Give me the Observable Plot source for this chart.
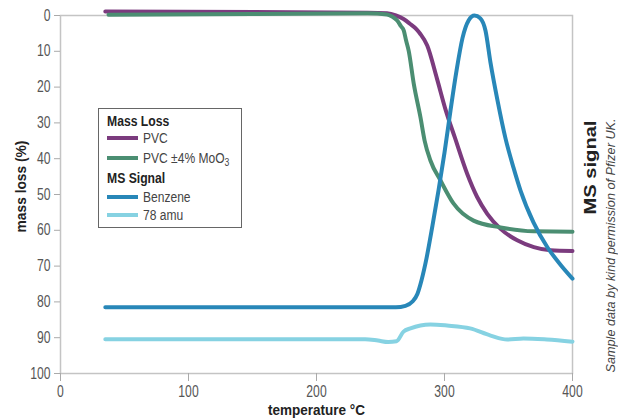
<!DOCTYPE html>
<html>
<head>
<meta charset="utf-8">
<script src="https://cdn.jsdelivr.net/npm/d3@7"></script>
<script src="https://cdn.jsdelivr.net/npm/@observablehq/plot@0.6"></script>
<style>
  html, body { margin: 0; padding: 0; background: #fff; }
  #wrap { position: relative; width: 618px; height: 419px; }
  #legend { position: absolute; left: 98px; top: 108px; width: 144px; height: 120px;
    border: 1.5px solid #666; box-sizing: border-box; background: #fff;
    font-family: "Liberation Sans", Arial, sans-serif; font-size: 14px; color: #444; }
  #legend .hdr { position: absolute; left: 8px; font-weight: bold; color: #222; line-height: 18px;
    transform: scaleX(0.87); transform-origin: left center; white-space: nowrap; }
  #legend .item { position: absolute; left: 8px; height: 18px; line-height: 18px; width: 130px; }
  #legend .sw { position: absolute; left: 0; top: 7px; width: 31px; height: 4px; }
  #legend .lab { position: absolute; left: 36px; white-space: nowrap;
    transform: scaleX(0.86); transform-origin: left center; }
</style>
</head>
<body>
<div id="wrap"></div>
<script>
// ---- data ----
const seriesNames = ["PVC", "PVC ±4% MoO3", "Benzene", "78 amu"];
const seriesColors = ["#7b3b7e", "#4b8e72", "#2887b8", "#86d2e2"];
const groupTitles = ["Mass Loss", "MS Signal"];

const pvcT = [35, 240, 255, 262, 268, 273, 278, 281, 286.5, 294, 301, 308, 317.7, 325.5, 333.4, 343.8, 356.8, 369.8, 382.8, 400];
const pvcY = [-1.1, -0.8, -0.6, 0, 1, 2.3, 3.8, 5.1, 8.4, 17.5, 26.5, 34, 44.2, 50.7, 55.4, 59.6, 62.8, 64.7, 65.6, 65.8];

const moT = [37.5, 150, 240, 255, 259, 263, 266, 268.2, 270, 272, 276, 281.2, 284.5, 289, 296.9, 307, 322.7, 343.8, 369.5, 400];
const moY = [-0.2, -0.4, -0.6, -0.3, 0.3, 1.4, 3, 4.2, 7, 9.8, 19.1, 28.4, 35, 40.5, 46.1, 52.5, 57.3, 59.2, 60.3, 60.4];

const benT = [35, 262, 269.5, 275, 278.9, 282, 285.9, 290.6, 295.3, 300, 304.7, 309.4, 314, 318.8, 323.4, 328, 332, 335.9, 341.4, 347.7, 353.9, 359.4, 369.5, 380.5, 390.6, 400];
const benY = [81.5, 81.5, 81.1, 79.9, 77.7, 74.0, 67.9, 58.7, 48.9, 38.3, 26.5, 15.4, 6.4, 1.4, 0, 0.8, 4.2, 13.1, 23.7, 34.4, 42.5, 48.9, 57.8, 64.8, 69.6, 73.5];

const amuT = [35, 150, 238, 248, 256, 262.5, 268, 273.4, 289, 302, 320, 336, 349, 361.7, 380, 400];
const amuY = [90.4, 90.4, 90.4, 90.8, 91.2, 91.0, 88.3, 87.4, 86.3, 86.6, 87.4, 89.4, 90.5, 90.2, 90.5, 91.1];

const xTicks = [0, 100, 200, 300, 400];
const yTicks = [0, 10, 20, 30, 40, 50, 60, 70, 80, 90, 100];

const xLabel = "temperature °C";
const yLabel = "mass loss (%)";
const rightLabel = "MS signal";
const caption = "Sample data by kind permission of Pfizer UK.";

// ---- build table ----
const rows = [];
[[pvcT, pvcY], [moT, moY], [benT, benY], [amuT, amuY]].forEach(([ts, ys], i) => {
  ts.forEach((t, j) => rows.push({series: seriesNames[i], t, y: ys[j]}));
});

const font = '"Liberation Sans", Arial, sans-serif';

const chart = Plot.plot({
  width: 618,
  height: 419,
  marginLeft: 60,
  marginRight: 46,
  marginTop: 15,
  marginBottom: 46,
  style: {fontFamily: font, fontSize: "16px", color: "#555", background: "#fff"},
  x: {domain: [0, 400]},
  y: {domain: [0, 100], reverse: true},
  color: {domain: seriesNames, range: seriesColors},
  marks: [
    Plot.frame({stroke: "#c4c4c4", strokeWidth: 1.5}),
    Plot.axisX({ticks: xTicks, tickSize: 8, tickPadding: 4, label: null, stroke: "#aaa", fill: "#555", fontSize: 16}),
    Plot.axisY({ticks: yTicks, tickSize: 6, tickPadding: 4, label: null, stroke: "#aaa", fill: "#555", fontSize: 16}),
    Plot.line(rows, {x: "t", y: "y", z: "series", stroke: "series", strokeWidth: 4, curve: "monotone-x"}),
    Plot.text([xLabel], {frameAnchor: "bottom", dy: 37, textAnchor: "middle", lineAnchor: "middle", fontWeight: "bold", fontSize: 15, fill: "#222", className: "lbl-x"}),
    Plot.text([yLabel], {frameAnchor: "left", dx: -39, dy: -8, textAnchor: "middle", lineAnchor: "middle", rotate: -90, fontWeight: "bold", fontSize: 15, fill: "#222", className: "lbl-y"}),
    Plot.text([rightLabel], {frameAnchor: "right", dx: 18, dy: -27, textAnchor: "middle", lineAnchor: "middle", rotate: -90, fontWeight: "bold", fontSize: 16, fill: "#222", className: "lbl-r"}),
    Plot.text([caption], {frameAnchor: "right", dx: 38, dy: 51, textAnchor: "middle", lineAnchor: "middle", rotate: -90, fontStyle: "italic", fontSize: 13, fill: "#444", className: "lbl-c"})
  ]
});
const wrap = document.getElementById("wrap");
wrap.appendChild(chart);

// emulate a condensed typeface
const rotatedTargets = {"lbl-y": 92, "lbl-r": 94, "lbl-c": 254};
chart.querySelectorAll("text").forEach(t => {
  const len = t.getComputedTextLength();
  if (!len) return;
  let handled = false;
  for (const cls in rotatedTargets) {
    if (t.closest("g." + cls)) {
      const k = rotatedTargets[cls] / len;
      const tr = t.getAttribute("transform") || "";
      t.setAttribute("transform", tr + ` scale(${k},1)`);
      handled = true;
    }
  }
  if (handled) return;
  const target = t.closest("g.lbl-x") ? 97 : len * 0.76;
  t.setAttribute("textLength", target);
  t.setAttribute("lengthAdjust", "spacingAndGlyphs");
});

// ---- legend (HTML overlay) ----
const legend = document.createElement("div");
legend.id = "legend";
const layout = [
  {type: "hdr", text: groupTitles[0], top: 3},
  {type: "item", idx: 0, top: 20},
  {type: "item", idx: 1, top: 40},
  {type: "hdr", text: groupTitles[1], top: 60},
  {type: "item", idx: 2, top: 79},
  {type: "item", idx: 3, top: 97}
];
layout.forEach(d => {
  const el = document.createElement("div");
  el.className = d.type;
  el.style.top = d.top + "px";
  if (d.type === "hdr") {
    el.textContent = d.text;
  } else {
    const sw = document.createElement("div");
    sw.className = "sw";
    sw.style.background = seriesColors[d.idx];
    const lab = document.createElement("div");
    lab.className = "lab";
    const name = seriesNames[d.idx];
    if (name.endsWith("MoO3")) {
      lab.innerHTML = name.slice(0, -1) + '<sub style="font-size:10px;vertical-align:-3px">3</sub>';
    } else {
      lab.textContent = name;
    }
    el.appendChild(sw);
    el.appendChild(lab);
  }
  legend.appendChild(el);
});
wrap.appendChild(legend);
</script>
</body>
</html>
